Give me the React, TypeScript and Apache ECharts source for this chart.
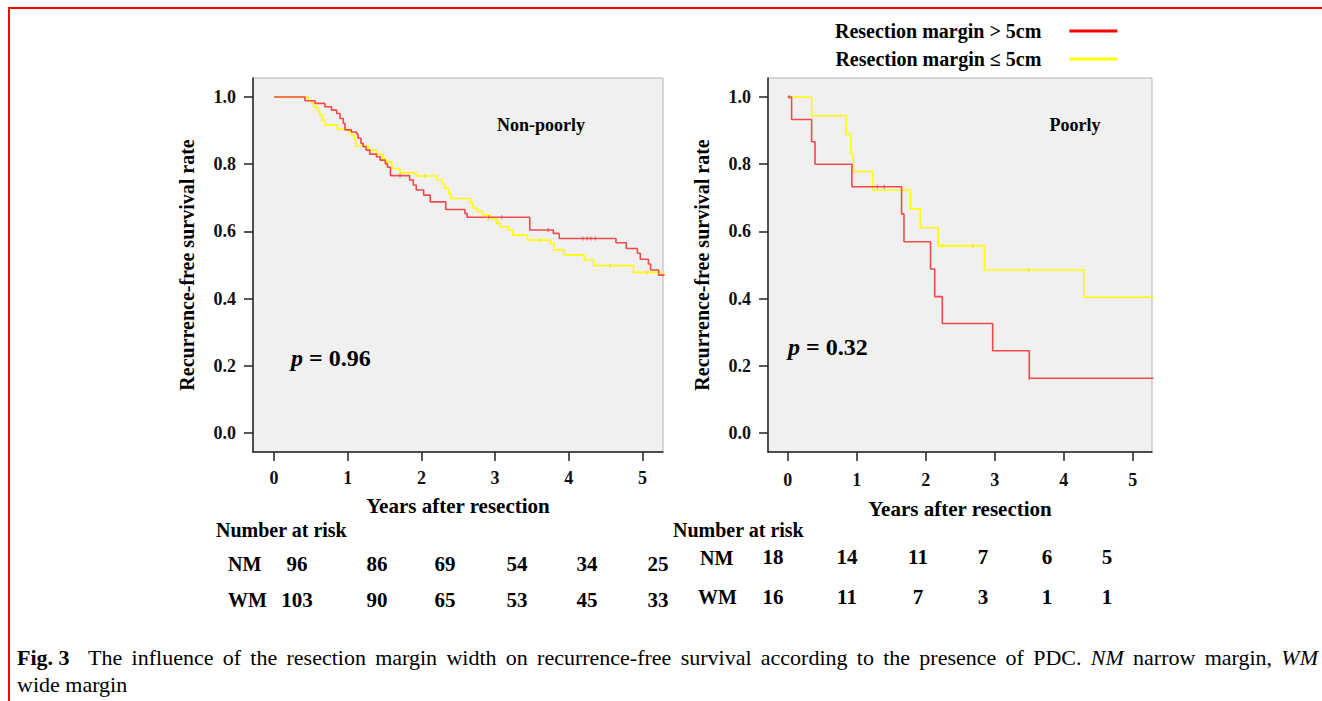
import React, { useEffect, useRef } from "react";
import * as echarts from "echarts";

const FONT = '"Liberation Serif", "Times New Roman", Times, serif';
const RED_NAME = "Resection margin > 5cm";
const YEL_NAME = "Resection margin ≤ 5cm";
const RED = "#F04A4A";
const YEL = "#FFFF00";

const xTicks = [0, 1, 2, 3, 4, 5];
const yTicks = [0, 0.2, 0.4, 0.6, 0.8, 1.0];

// Non-poorly panel (Kaplan-Meier steps: time, survival after the step)
const npRedTime = [0, 0.42, 0.556, 0.69, 0.78, 0.85, 0.895, 0.94, 0.963, 1.05, 1.12, 1.14, 1.18, 1.21, 1.25, 1.3, 1.39, 1.44, 1.51, 1.54, 1.58, 1.84, 1.89, 1.93, 2.03, 2.12, 2.33, 2.59, 2.62, 3.47, 3.79, 3.87, 4.64, 4.78, 4.93, 4.97, 5.08, 5.11, 5.22, 5.3];
const npRedSurv = [1.0, 0.989, 0.981, 0.971, 0.961, 0.951, 0.936, 0.921, 0.902, 0.896, 0.89, 0.877, 0.862, 0.852, 0.842, 0.83, 0.822, 0.812, 0.801, 0.791, 0.766, 0.753, 0.738, 0.723, 0.708, 0.688, 0.665, 0.653, 0.642, 0.604, 0.594, 0.579, 0.566, 0.549, 0.535, 0.517, 0.503, 0.485, 0.47, 0.47];
const npYelTime = [0, 0.466, 0.51, 0.54, 0.59, 0.62, 0.65, 0.69, 0.86, 1.01, 1.05, 1.09, 1.11, 1.28, 1.39, 1.47, 1.52, 1.6, 1.71, 1.93, 2.21, 2.28, 2.32, 2.37, 2.4, 2.66, 2.7, 2.76, 2.83, 2.94, 3.02, 3.07, 3.18, 3.24, 3.44, 3.75, 3.8, 3.93, 4.21, 4.34, 4.88, 5.3];
const npYelSurv = [1.0, 0.989, 0.981, 0.971, 0.96, 0.946, 0.931, 0.917, 0.904, 0.896, 0.887, 0.872, 0.854, 0.842, 0.83, 0.817, 0.807, 0.787, 0.775, 0.765, 0.753, 0.741, 0.728, 0.713, 0.698, 0.684, 0.669, 0.659, 0.649, 0.638, 0.624, 0.614, 0.604, 0.589, 0.574, 0.564, 0.545, 0.53, 0.515, 0.498, 0.478, 0.478];
const npRedCensTime = [1.71, 2.91, 3.09, 3.72, 4.19, 4.25, 4.3, 4.36];
const npRedCensSurv = [0.766, 0.642, 0.642, 0.604, 0.579, 0.579, 0.579, 0.579];
const npYelCensTime = [2.05, 2.9, 3.61, 4.56, 5.06];
const npYelCensSurv = [0.765, 0.638, 0.574, 0.498, 0.478];

// Poorly panel
const pRedTime = [0, 0.057, 0.347, 0.396, 0.93, 1.65, 1.685, 2.07, 2.13, 2.24, 2.97, 3.5, 5.3];
const pRedSurv = [1.0, 0.933, 0.867, 0.8, 0.733, 0.652, 0.569, 0.488, 0.406, 0.326, 0.245, 0.163, 0.163];
const pYelTime = [0, 0.347, 0.845, 0.917, 0.95, 1.23, 1.78, 1.92, 2.18, 2.85, 4.29, 5.3];
const pYelSurv = [1.0, 0.944, 0.889, 0.832, 0.778, 0.723, 0.667, 0.611, 0.557, 0.485, 0.404, 0.404];
const pRedCensTime = [0.02, 1.3, 1.4, 3.5];
const pRedCensSurv = [1.0, 0.733, 0.733, 0.163];
const pYelCensTime = [2.24, 2.68, 3.49];
const pYelCensSurv = [0.557, 0.557, 0.485];

// Numbers at risk
const riskRowLabels = ["NM", "WM"];
const npRiskNM = [96, 86, 69, 54, 34, 25];
const npRiskWM = [103, 90, 65, 53, 45, 33];
const pRiskNM = [18, 14, 11, 7, 6, 5];
const pRiskWM = [16, 11, 7, 3, 1, 1];

const panelTitles = ["Non-poorly", "Poorly"];
const pValues = ["0.96", "0.32"];

// caption tokens (style: n normal, b bold, i italic)
const captionLine1: [string, string][] = [
  ["Fig. 3", "b"], ["The", "n"], ["influence", "n"], ["of", "n"], ["the", "n"], ["resection", "n"],
  ["margin", "n"], ["width", "n"], ["on", "n"], ["recurrence-free", "n"], ["survival", "n"],
  ["according", "n"], ["to", "n"], ["the", "n"], ["presence", "n"], ["of", "n"], ["PDC.", "n"],
  ["NM", "i"], ["narrow", "n"], ["margin,", "n"], ["WM", "i"],
];
const captionLine2 = "wide margin";

// layout
const npRiskX = [297, 377, 445, 517, 587, 658];
const pRiskX = [773, 847, 918, 983, 1047, 1107];

const zip = (a: number[], b: number[]) => a.map((v, i) => [v, b[i]]);

function axesFor(gi: number) {
  const xAxis = {
    type: "value",
    gridIndex: gi,
    min: -0.285,
    max: 5.278,
    name: "Years after resection",
    nameLocation: "middle",
    nameGap: gi === 0 ? 43 : 46,
    nameTextStyle: { fontFamily: FONT, fontWeight: "bold", fontSize: 21, color: "#000" },
    axisLine: { show: true, onZero: false, lineStyle: { color: "#222", width: 1.5 } },
    axisTick: { show: true, length: 9, customValues: xTicks, lineStyle: { color: "#222", width: 1.5 } },
    axisLabel: {
      customValues: xTicks,
      margin: gi === 0 ? 17 : 19,
      fontFamily: FONT,
      fontWeight: "bold",
      fontSize: 18,
      color: "#111",
      formatter: (v: number) => String(v),
    },
    splitLine: { show: false },
  };
  const yAxis = {
    type: "value",
    gridIndex: gi,
    min: -0.0565,
    max: 1.0565,
    name: "Recurrence-free survival rate",
    nameLocation: "middle",
    nameGap: 56,
    nameTextStyle: { fontFamily: FONT, fontWeight: "bold", fontSize: 20, color: "#000" },
    axisLine: { show: true, onZero: false, lineStyle: { color: "#222", width: 1.5 } },
    axisTick: { show: true, length: 9, customValues: yTicks, lineStyle: { color: "#222", width: 1.5 } },
    axisLabel: {
      customValues: yTicks,
      margin: 17,
      fontFamily: FONT,
      fontWeight: "bold",
      fontSize: 18,
      color: "#111",
      formatter: (v: number) => v.toFixed(1),
    },
    splitLine: { show: false },
  };
  return { xAxis, yAxis };
}

function stepSeries(name: string, color: string, gi: number, t: number[], s: number[]) {
  return {
    type: "line",
    name,
    xAxisIndex: gi,
    yAxisIndex: gi,
    step: "end",
    symbol: "none",
    color,
    lineStyle: { color, width: 1.6 },
    data: zip(t, s),
    silent: true,
    z: color === RED ? 4 : 3,
  };
}

function censorSeries(name: string, color: string, gi: number, t: number[], s: number[]) {
  return {
    type: "scatter",
    name,
    xAxisIndex: gi,
    yAxisIndex: gi,
    symbol: "rect",
    symbolSize: [1.2, 4],
    itemStyle: { color },
    data: zip(t, s),
    silent: true,
    z: 5,
  };
}

function txt(text: string, x: number, y: number, size: number, align = "left", extra: any = {}) {
  return {
    type: "text",
    x,
    y,
    style: {
      text,
      fontFamily: FONT,
      fontWeight: "bold",
      fontSize: size,
      fill: "#000",
      textAlign: align,
      textVerticalAlign: "middle",
      ...extra,
    },
  };
}

function captionGraphics(): any[] {
  const size = 22;
  const canvas = document.createElement("canvas");
  const ctx = canvas.getContext("2d")!;
  const fontFor = (st: string) =>
    (st === "b" ? "bold " : st === "i" ? "italic " : "") + size + 'px "Liberation Serif", "Times New Roman", serif';
  const widths = captionLine1.map(([w, st]) => {
    ctx.font = fontFor(st);
    return ctx.measureText(w).width;
  });
  const left = 17;
  const right = 1318;
  const total = widths.reduce((a, b) => a + b, 0);
  const units = captionLine1.length - 1 + 1; // first gap is double
  const gap = (right - left - total) / units;
  const out: any[] = [];
  let x = left;
  captionLine1.forEach(([w, st], i) => {
    out.push({
      type: "text",
      x,
      y: 657,
      style: {
        text: w,
        fontFamily: FONT,
        fontSize: size,
        fontWeight: st === "b" ? "bold" : "normal",
        fontStyle: st === "i" ? "italic" : "normal",
        fill: "#000",
        textVerticalAlign: "middle",
      },
    });
    x += widths[i] + gap * (i === 0 ? 2 : 1);
  });
  out.push({
    type: "text",
    x: left,
    y: 684,
    style: { text: captionLine2, fontFamily: FONT, fontSize: size, fill: "#000", textVerticalAlign: "middle" },
  });
  return out;
}

export default function App() {
  const ref = useRef<HTMLDivElement>(null);
  useEffect(() => {
    if (!ref.current) return;
    const chart = echarts.init(ref.current, null, { renderer: "svg" });
    const a0 = axesFor(0);
    const a1 = axesFor(1);
    const pStyle = (x: number, y: number, v: string) => ({
      type: "text",
      x,
      y,
      style: {
        text: "{i|p} = " + v,
        rich: { i: { fontStyle: "italic", fontWeight: "bold", fontFamily: FONT, fontSize: 24 } },
        fontFamily: FONT,
        fontWeight: "bold",
        fontSize: 24,
        fill: "#000",
        textVerticalAlign: "middle",
      },
    });

    const graphics: any[] = [
      {
        type: "rect",
        shape: { x: 9, y: 8, width: 1400, height: 800 },
        style: { fill: "none", stroke: "#FF0000", lineWidth: 2 },
        silent: true,
      },
      txt(panelTitles[0], 541, 125, 18, "center"),
      txt(panelTitles[1], 1075, 125, 18, "center"),
      pStyle(291, 358, pValues[0]),
      pStyle(788, 347, pValues[1]),
      txt("Number at risk", 216, 530, 20),
      txt("Number at risk", 673, 530, 20),
      txt(riskRowLabels[0], 228, 564, 20),
      txt(riskRowLabels[1], 228, 600, 20),
      txt(riskRowLabels[0], 700, 558, 20),
      txt(riskRowLabels[1], 698, 597, 20),
    ];
    npRiskNM.forEach((v, i) => graphics.push(txt(String(v), npRiskX[i], 564, 21, "center")));
    npRiskWM.forEach((v, i) => graphics.push(txt(String(v), npRiskX[i], 600, 21, "center")));
    pRiskNM.forEach((v, i) => graphics.push(txt(String(v), pRiskX[i], 557, 21, "center")));
    pRiskWM.forEach((v, i) => graphics.push(txt(String(v), pRiskX[i], 597, 21, "center")));
    captionGraphics().forEach((g) => graphics.push(g));

    chart.setOption({
      animation: false,
      backgroundColor: "#FFFFFF",
      grid: [
        { left: 253, top: 78, width: 410, height: 374, show: true, backgroundColor: "#F0F0F0", borderColor: "#B4B4B4", borderWidth: 1 },
        { left: 768, top: 78, width: 384, height: 374, show: true, backgroundColor: "#F0F0F0", borderColor: "#B4B4B4", borderWidth: 1 },
      ],
      xAxis: [a0.xAxis, a1.xAxis],
      yAxis: [a0.yAxis, a1.yAxis],
      legend: {
        orient: "vertical",
        left: 835,
        top: 20,
        padding: 0,
        align: "right",
        icon: "rect",
        itemWidth: 48,
        itemHeight: 3,
        itemGap: 6,
        selectedMode: false,
        textStyle: { fontFamily: FONT, fontWeight: "bold", fontSize: 20, color: "#000", lineHeight: 22, padding: [0, 23, 0, 0] },
        data: [
          { name: RED_NAME, itemStyle: { color: "#FF0000" } },
          { name: YEL_NAME, itemStyle: { color: "#FFFF00" } },
        ],
      },
      series: [
        stepSeries(YEL_NAME, YEL, 0, npYelTime, npYelSurv),
        stepSeries(RED_NAME, RED, 0, npRedTime, npRedSurv),
        stepSeries(YEL_NAME, YEL, 1, pYelTime, pYelSurv),
        stepSeries(RED_NAME, RED, 1, pRedTime, pRedSurv),
        censorSeries("censored >5cm (non-poorly)", RED, 0, npRedCensTime, npRedCensSurv),
        censorSeries("censored ≤5cm (non-poorly)", "#E6E600", 0, npYelCensTime, npYelCensSurv),
        censorSeries("censored >5cm (poorly)", RED, 1, pRedCensTime, pRedCensSurv),
        censorSeries("censored ≤5cm (poorly)", "#E6E600", 1, pYelCensTime, pYelCensSurv),
      ],
      graphic: graphics,
    });
    return () => chart.dispose();
  }, []);
  return <div ref={ref} style={{ position: "absolute", left: 0, top: 0, width: 1322, height: 701 }} />;
}
